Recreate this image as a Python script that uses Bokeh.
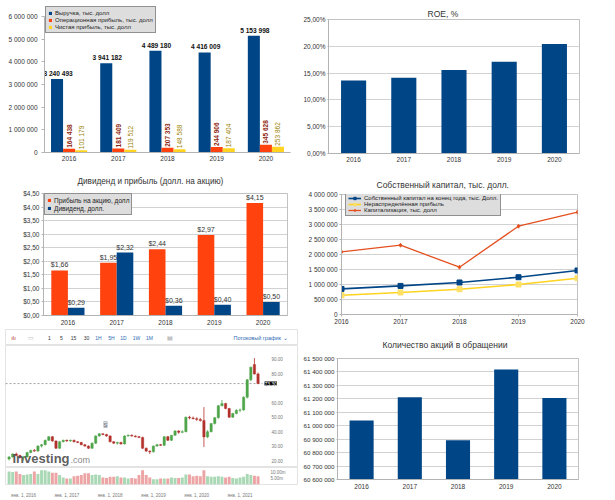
import numpy as np
from bokeh.plotting import figure
from bokeh.models import (FactorRange, Range1d, ColumnDataSource, Legend, LegendItem, Label,
                          CustomJSTickFormatter, FixedTicker, Title)
from bokeh.transform import dodge
from bokeh.layouts import row, column
from bokeh.embed import file_html
from bokeh.resources import INLINE
from bokeh.core.properties import value

FONT = "Liberation Sans"
TXT = "#333333"
GRID = "#b3b3b3"
NAVY = "#004586"
ORANGE = "#ff420e"
YELLOW = "#ffd320"

# ---------------- data ----------------
years = ["2016", "2017", "2018", "2019", "2020"]
year_num = [2016, 2017, 2018, 2019, 2020]
revenue = [3240493, 3941182, 4489180, 4416009, 5153998]
operating_profit = [164438, 181409, 207353, 244906, 345628]
net_profit = [101179, 119512, 148588, 187404, 253862]
roe = [13.6, 14.15, 15.6, 17.1, 20.45]
eps = [1.66, 1.95, 2.44, 2.97, 4.15]
dividend = [0.29, 2.32, 0.36, 0.40, 0.50]
equity = [853000, 953000, 1067000, 1243000, 1467000]
retained = [643000, 733000, 843000, 1000000, 1210000]
market_cap = [2087000, 2310000, 1577000, 2943000, 3410000]
shares = [61039000, 61212000, 60892000, 61418000, 61207000]

# monthly candles, Sep 2015 .. Jun 2021
candle_first_year, candle_first_month = 2015, 9
c_open = [21, 22.5, 24.5, 23.5, 22, 22.5, 25.5, 27, 26.5, 30, 31, 34,
          36.5, 33.5, 28.5, 33, 34, 33.5, 34, 33, 32.5, 31, 30, 28.5,
          32, 37, 38.5, 38, 37, 33, 32, 32.5, 31.5, 37, 37.5, 37,
          36.5, 36, 28.5, 26.5, 26, 30, 31, 30.5, 36.5, 34, 37.5, 40.5,
          39.5, 40, 50, 49.5, 49, 48.5, 47.7, 36.3, 40, 45.6, 49.7, 58,
          59.5, 56, 50, 52.6, 54.9, 55, 63.9, 75.9, 86.5, 80]
c_high = [23, 25, 25.5, 24, 23, 26, 27.5, 28, 30.5, 31.5, 34.5, 37,
          37, 34, 33.5, 34.5, 34.5, 34.5, 34.5, 33.5, 33, 31.5, 30.5, 32.5,
          37.5, 39, 39, 38.5, 37.5, 33.5, 33, 33, 37.5, 38, 38, 37.5,
          37, 36.5, 29, 27, 30.5, 31.5, 31.5, 37, 37, 37.5, 41, 41,
          41, 50.5, 51, 50.5, 50, 49.5, 57, 41, 46, 50, 58.5, 62,
          60, 56.5, 53, 55.5, 56, 64.5, 76.5, 85, 91, 81]
c_low = [20, 22, 23, 21.5, 20, 22, 25, 26, 26, 29, 30.5, 33.5,
         33, 28, 28, 32.5, 33, 33, 32.5, 32, 30.5, 29.5, 28, 28,
         31.5, 36.5, 37.5, 36.5, 32.5, 31.5, 31, 31, 31, 36.5, 36.5, 36,
         35.5, 28, 26, 24.5, 25.5, 29.5, 30, 30, 33.5, 33.5, 37, 38.5,
         39, 39.5, 48.5, 48.5, 47.5, 47, 29.4, 35.5, 39.5, 45, 49, 57.5,
         55.5, 49.5, 49.5, 52, 53.5, 54.5, 63, 75, 79.5, 73]
c_close = [22.5, 24.5, 23.5, 22, 22.5, 25.5, 27, 26.5, 30, 31, 34, 36.5,
           33.5, 28.5, 33, 34, 33.5, 34, 33, 32.5, 31, 30, 28.5, 32,
           37, 38.5, 38, 37, 33, 32, 32.5, 31.5, 37, 37.5, 37, 36.5,
           36, 28.5, 26.5, 26, 30, 31, 30.5, 36.5, 34, 37.5, 40.5, 39.5,
           40, 50, 49.5, 49, 48.5, 47.7, 36.3, 40, 45.6, 49.7, 58, 59.5,
           56, 50, 52.6, 54.9, 55, 63.9, 75.9, 84.7, 80, 73.3]
c_volume = [11, 10.5, 11, 9, 8, 8.5, 9, 11, 9, 12, 12, 11,
            10, 10, 8, 6, 5, 5, 7, 7.5, 8, 9.5, 9.5, 8,
            8.5, 8, 6, 5.5, 6.5, 6.5, 7, 6, 6, 5, 5.5, 5,
            8, 12, 8, 6, 4.5, 4.5, 5, 5, 5, 6, 5.5, 5.5,
            6, 8.5, 8.5, 7, 7.5, 7, 12, 7, 6.5, 6.5, 7, 6.5,
            6, 6.5, 5.5, 5, 6, 6.5, 9, 8, 7.5, 7]
last_price = 73.30
price_ticks = [20, 30, 40, 50, 60, 80, 90]
volume_ticks = [5, 10]
date_ticks = [2016, 2017, 2018, 2019, 2020, 2021]
price_axis_at = 2021.52
toolbar_buttons = ["1", "5", "15", "30", "1H", "5H", "1D", "1W", "1M"]

THOUS = CustomJSTickFormatter(code=r"return Math.round(tick).toString().replace(/\B(?=(\d{3})+(?!\d))/g, ' ');")
PCT = CustomJSTickFormatter(code=r"return tick.toFixed(2).replace('.', ',') + '%';")
DOLLAR = CustomJSTickFormatter(code=r"return '$' + tick.toFixed(2).replace('.', ',');")
INT = CustomJSTickFormatter(code=r"return tick.toFixed(0);")


def fmt(v):
    return f"{v:,}".replace(",", " ")


def make_fig(w, h, xr, yr, left, right, top, bottom, **kw):
    p = figure(width=w, height=h, x_range=xr, y_range=yr, output_backend="svg",
               toolbar_location=None, title=None, min_border_left=left,
               min_border_right=right, min_border_top=top, min_border_bottom=bottom, **kw)
    p.background_fill_color = "white"
    p.border_fill_color = "white"
    p.outline_line_color = GRID
    p.outline_line_width = 0.8
    for ax in p.axis:
        ax.axis_line_color = GRID
        ax.major_tick_line_color = GRID
        ax.major_tick_in = 0
        ax.major_tick_out = 2
        ax.minor_tick_line_color = None
        ax.major_label_text_font = FONT
        ax.major_label_text_font_size = "6.5px"
        ax.major_label_text_color = TXT
        ax.major_label_standoff = 2
    p.xgrid.grid_line_color = None
    p.ygrid.grid_line_color = GRID
    p.ygrid.grid_line_width = 0.6
    return p


def cat_xaxis(p, standoff=4):
    p.xaxis.major_tick_line_color = None
    p.xaxis.major_tick_out = 0
    p.xaxis.major_label_standoff = standoff


def set_title(p, text, offset, standoff, size="8.5px"):
    t = Title(text=text, align="left", offset=offset, standoff=standoff, text_font=FONT,
              text_font_size=size, text_font_style="normal", text_color=TXT)
    p.add_layout(t, "above")


def style_legend(lg, size="6.3px", gw=5, gh=5, lh=6, pad=2):
    lg.background_fill_color = "#dddddd"
    lg.background_fill_alpha = 1
    lg.border_line_color = "#444444"
    lg.border_line_width = 0.8
    lg.label_text_font = FONT
    lg.label_text_font_size = size
    lg.label_text_color = "#222222"
    lg.label_height = lh
    lg.glyph_height = gh
    lg.glyph_width = gw
    lg.label_standoff = 3
    lg.spacing = 0
    lg.padding = pad
    lg.margin = 0


# ---------------- panel 1: revenue / profits ----------------
# the frame reaches the top edge so the legend can sit above the 6 000 000 line
p1 = make_fig(300, 166, FactorRange(*years), Range1d(0, 6705882), 44, 10, 0, 14)
p1.ygrid.grid_line_color = None
p1.outline_line_color = None
p1.yaxis.ticker = FixedTicker(ticks=[0, 1000000, 2000000, 3000000, 4000000, 5000000, 6000000])
p1.yaxis.bounds = (0, 6000000)
p1.yaxis.formatter = THOUS
p1.yaxis.major_label_standoff = 4
p1.yaxis.major_tick_out = 3
cat_xaxis(p1, 3)
src1 = ColumnDataSource(dict(year=years, rev=revenue, op=operating_profit, net=net_profit,
                             rev_t=[fmt(v) for v in revenue],
                             op_t=[fmt(v) for v in operating_profit],
                             net_t=[fmt(v) for v in net_profit]))
W1 = 0.245
r_rev = p1.vbar(x=dodge("year", -W1, range=p1.x_range), top="rev", width=W1, source=src1,
                fill_color=NAVY, line_color=None)
r_op = p1.vbar(x=dodge("year", 0, range=p1.x_range), top="op", width=W1, source=src1,
               fill_color=ORANGE, line_color=None)
r_net = p1.vbar(x=dodge("year", W1, range=p1.x_range), top="net", width=W1, source=src1,
                fill_color=YELLOW, line_color=None)
p1.text(x=dodge("year", -W1, range=p1.x_range), y="rev", text="rev_t", source=src1,
        text_align="center", text_baseline="bottom", y_offset=-2, x_offset=1,
        text_font=value(FONT), text_font_size="6.6px", text_font_style="bold",
        text_color="#111111")
p1.text(x=dodge("year", 0, range=p1.x_range), y="op", text="op_t", source=src1, angle=np.pi / 2,
        text_align="left", text_baseline="middle", y_offset=-1, text_font=value(FONT),
        text_font_size="6.5px", text_font_style="bold", text_color="#8e1e0c")
p1.text(x=dodge("year", W1, range=p1.x_range), y="net", text="net_t", source=src1, angle=np.pi / 2,
        text_align="left", text_baseline="middle", y_offset=-1, text_font=value(FONT),
        text_font_size="6.5px", text_color="#9a8200")
lg1 = Legend(items=[LegendItem(label="Выручка, тыс. долл", renderers=[r_rev]),
                    LegendItem(label="Операционная прибыль, тыс. долл", renderers=[r_op]),
                    LegendItem(label="Чистая прибыль, тыс. долл", renderers=[r_net])],
             location=(1, 119))
style_legend(lg1, size="6px", gw=4, gh=4, lh=7)
p1.add_layout(lg1)

# ---------------- panel 2: ROE ----------------
p2 = make_fig(315, 166, FactorRange(*years), Range1d(0, 25), 26, 36, 19, 13)
p2.yaxis.ticker = FixedTicker(ticks=[0, 5, 10, 15, 20, 25])
p2.yaxis.formatter = PCT
p2.yaxis.major_tick_out = 1
cat_xaxis(p2, 3)
src2 = ColumnDataSource(dict(year=years, roe=roe))
p2.vbar(x="year", top="roe", width=0.5, source=src2, fill_color=NAVY, line_color=None)
set_title(p2, "ROE, %", 99, 2)

# ---------------- panel 3: EPS & dividend ----------------
p3 = make_fig(300, 162, FactorRange(*years), Range1d(0, 4.5), 43, 13, 27, 13)
p3.yaxis.ticker = FixedTicker(ticks=[0, 0.5, 1, 1.5, 2, 2.5, 3, 3.5, 4, 4.5])
p3.yaxis.formatter = DOLLAR
cat_xaxis(p3, 4)
src3 = ColumnDataSource(dict(year=years, eps=eps, div=dividend,
                             eps_t=["$" + f"{v:.2f}".replace(".", ",") for v in eps],
                             div_t=["$" + f"{v:.2f}".replace(".", ",") for v in dividend]))
W3 = 0.34
r_eps = p3.vbar(x=dodge("year", -W3 / 2, range=p3.x_range), top="eps", width=W3, source=src3,
                fill_color=ORANGE, line_color=None)
r_div = p3.vbar(x=dodge("year", W3 / 2, range=p3.x_range), top="div", width=W3, source=src3,
                fill_color=NAVY, line_color=None)
for col, off in (("eps", -W3 / 2), ("div", W3 / 2)):
    p3.text(x=dodge("year", off, range=p3.x_range), y=col, text=col + "_t", source=src3,
            text_align="center", text_baseline="bottom", y_offset=-2, text_font=value(FONT),
            text_font_size="7px", text_color=TXT)
lg3 = Legend(items=[LegendItem(label="Прибыль на акцию, долл", renderers=[r_eps]),
                    LegendItem(label="Дивиденд, долл.", renderers=[r_div])],
             location=(1, 100))
style_legend(lg3, size="6.5px", gw=4, gh=4, lh=8)
p3.add_layout(lg3)
set_title(p3, "Дивиденд и прибыль (долл. на акцию)", 34, 15, size="8.2px")

# ---------------- panel 4: equity ----------------
p4 = make_fig(315, 162, Range1d(2016, 2020), Range1d(0, 4000000), 41, 38, 28, 14)
p4.xaxis.ticker = FixedTicker(ticks=year_num)
p4.xaxis.formatter = INT
p4.yaxis.ticker = FixedTicker(ticks=[0, 500000, 1000000, 1500000, 2000000, 2500000, 3000000,
                                     3500000, 4000000])
p4.yaxis.formatter = THOUS
src4 = ColumnDataSource(dict(x=year_num, eq=equity, ret=retained, cap=market_cap))
l_eq = p4.line("x", "eq", source=src4, line_color=NAVY, line_width=1.6)
m_eq = p4.scatter("x", "eq", source=src4, marker="square", size=5, fill_color=NAVY, line_color=NAVY)
l_ret = p4.line("x", "ret", source=src4, line_color=YELLOW, line_width=1.6)
m_ret = p4.scatter("x", "ret", source=src4, marker="square", size=5, fill_color="#ffe066",
                   line_color="#ffe066")
l_cap = p4.line("x", "cap", source=src4, line_color="#e4501f", line_width=1.3)
m_cap = p4.scatter("x", "cap", source=src4, marker="diamond", size=4, fill_color="#e4501f",
                   line_color="#e4501f")
lg4 = Legend(items=[LegendItem(label="Собственный капитал на конец года, тыс. Долл.", renderers=[l_eq, m_eq]),
                    LegendItem(label="Нераспределённая прибыль", renderers=[l_ret, m_ret]),
                    LegendItem(label="Капитализация, тыс. долл", renderers=[l_cap, m_cap])],
             location=(4, 98))
style_legend(lg4, size="6px", gw=13, gh=6, lh=6)
p4.add_layout(lg4)
set_title(p4, "Собственный капитал, тыс. долл.", 35, 10)

# ---------------- panel 5: price chart (investing.com screenshot) ----------------
n = len(c_close)
cx = [candle_first_year + (candle_first_month - 1 + i) / 12 for i in range(n)]
up = [c >= o for o, c in zip(c_open, c_close)]
src5 = ColumnDataSource(dict(
    x=cx, o=c_open, h=c_high, l=c_low, c=c_close, vol=c_volume,
    top=[max(o, c) for o, c in zip(c_open, c_close)],
    bot=[min(o, c) for o, c in zip(c_open, c_close)],
    col=["#4ea54a" if u else "#b3312c" for u in up],
    vcol=["#a9d8b4" if u else "#eda4a4" for u in up]))
xr5 = Range1d(2015.584, 2022.328)

# toolbar strip
p5t = figure(width=300, height=17, x_range=Range1d(0, 1), y_range=Range1d(0, 1),
             x_axis_location=None, y_axis_location=None, output_backend="svg",
             toolbar_location=None, title=None, min_border_left=5, min_border_right=3,
             min_border_top=1, min_border_bottom=0)
p5t.outline_line_color = "#e3e3e3"
p5t.grid.grid_line_color = None
for tx, t in zip([49, 61, 73, 86, 98, 111, 123, 136, 149], toolbar_buttons):
    p5t.add_layout(Label(x=tx, y=9, x_units="canvas", y_units="canvas", text=t,
                         text_font=FONT, text_font_size="5px",
                         text_color="#333333" if t[-1].isdigit() else "#2d6ab4",
                         text_align="center", text_baseline="middle"))
p5t.add_layout(Label(x=13, y=9, x_units="canvas", y_units="canvas", text="ılı",
                     text_font=FONT, text_font_size="6px", text_color="#b3312c",
                     text_align="center", text_baseline="middle"))
p5t.add_layout(Label(x=30, y=9, x_units="canvas", y_units="canvas", text="▭",
                     text_font=FONT, text_font_size="6px", text_color="#bbbbbb",
                     text_align="center", text_baseline="middle"))
p5t.add_layout(Label(x=169, y=9, x_units="canvas", y_units="canvas", text="▤",
                     text_font=FONT, text_font_size="6px", text_color="#999999",
                     text_align="center", text_baseline="middle"))
p5t.add_layout(Label(x=287, y=9, x_units="canvas", y_units="canvas", text="Потоковый график ⌄",
                     text_font=FONT, text_font_size="5.5px", text_color="#2d6ab4",
                     text_align="right", text_baseline="middle"))

# candles
p5a = figure(width=300, height=122, x_range=xr5, y_range=Range1d(15.15, 99.7),
             x_axis_location=None, y_axis_location="right", output_backend="svg",
             toolbar_location=None, title=None, min_border_left=5, min_border_right=3,
             min_border_top=0, min_border_bottom=0)
p5a.outline_line_color = "#e3e3e3"
p5a.grid.grid_line_color = None
p5a.yaxis.ticker = FixedTicker(ticks=price_ticks)
p5a.yaxis.formatter = CustomJSTickFormatter(code="return tick.toFixed(2);")
p5a.yaxis.fixed_location = price_axis_at
ax = p5a.yaxis[0]
ax.axis_line_color = None
ax.major_tick_line_color = None
ax.minor_tick_line_color = None
ax.major_label_text_font = FONT
ax.major_label_text_font_size = "4.5px"
ax.major_label_text_color = "#777777"
ax.major_label_standoff = 3
p5a.line(x=[xr5.start, price_axis_at], y=[last_price, last_price], line_color="#777777",
         line_dash="2 2", line_width=0.7)
p5a.segment(x0="x", y0="h", x1="x", y1="l", source=src5, line_color="col", line_width=0.8)
p5a.vbar(x="x", top="top", bottom="bot", width=0.055, source=src5, fill_color="col",
         line_color="col", line_width=0.4)
p5a.add_layout(Label(x=264, y=38, x_units="canvas", y_units="canvas", text=f"{last_price:.2f}",
                     text_font=FONT, text_font_size="5px", text_color="white",
                     text_baseline="middle", background_fill_color="black"))
p5a.add_layout(Label(x=105, y=79, x_units="canvas", y_units="canvas", text="S",
                     text_font=FONT, text_font_size="5px", text_color="#555555",
                     text_align="center", text_baseline="middle",
                     background_fill_color="#dfe4ea", border_line_color="#b8c0c8"))
p5a.add_layout(Label(x=12, y=113, x_units="canvas", y_units="canvas", text="Investing",
                     text_font=FONT, text_font_size="13px", text_font_style="bold",
                     text_color="#4a4a4a", text_alpha=0.9, text_baseline="middle"))
p5a.add_layout(Label(x=70, y=114, x_units="canvas", y_units="canvas", text=".com",
                     text_font=FONT, text_font_size="9px", text_color="#8a8a8a",
                     text_baseline="middle"))

# volume
p5b = figure(width=300, height=33, x_range=xr5, y_range=Range1d(0, 14.4),
             y_axis_location="right", output_backend="svg", toolbar_location=None,
             title=None, min_border_left=5, min_border_right=3, min_border_top=0,
             min_border_bottom=10)
p5b.outline_line_color = "#e3e3e3"
p5b.grid.grid_line_color = None
p5b.vbar(x="x", top="vol", width=0.068, source=src5, fill_color="vcol", line_color=None)
p5b.yaxis.ticker = FixedTicker(ticks=volume_ticks)
p5b.yaxis.formatter = CustomJSTickFormatter(code="return tick.toFixed(2) + 'm';")
p5b.yaxis.fixed_location = price_axis_at
p5b.xaxis.ticker = FixedTicker(ticks=date_ticks)
p5b.xaxis.formatter = CustomJSTickFormatter(code="return 'янв. 1, ' + tick.toFixed(0);")
for ax in p5b.axis:
    ax.axis_line_color = None
    ax.major_tick_line_color = None
    ax.minor_tick_line_color = None
    ax.major_label_text_font = FONT
    ax.major_label_text_font_size = "4.5px"
    ax.major_label_text_color = "#777777"
    ax.major_label_standoff = 2

# ---------------- panel 6: shares outstanding ----------------
p6 = make_fig(315, 172, FactorRange(*years), Range1d(60600000, 61500000), 34, 37, 30, 21)
p6.yaxis.ticker = FixedTicker(ticks=[60600000, 60700000, 60800000, 60900000, 61000000,
                                     61100000, 61200000, 61300000, 61400000, 61500000])
p6.yaxis.formatter = THOUS
p6.yaxis.major_label_text_font_size = "6.2px"
p6.yaxis.major_tick_out = 1
cat_xaxis(p6, 4)
src6 = ColumnDataSource(dict(year=years, shares=shares))
p6.vbar(x="year", top="shares", width=0.5, source=src6, fill_color=NAVY, line_color=None)
set_title(p6, "Количество акций в обращении", 45, 17)

# each plot sits in its own column so that frames are not aligned across panels
layout = column(row(column(p1), column(p2)),
                row(column(p3), column(p4)),
                row(column(p5t, p5a, p5b), column(p6)))
with open("out.html", "w", encoding="utf-8") as f:
    f.write(file_html(layout, INLINE))
